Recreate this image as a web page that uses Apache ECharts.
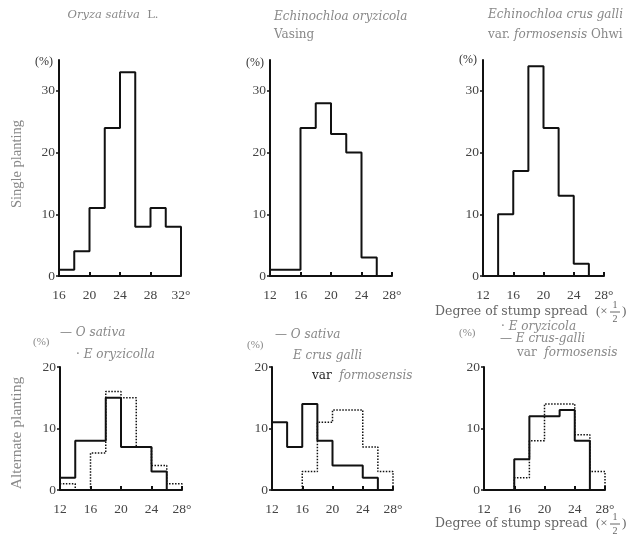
<!DOCTYPE html>
<html>
<head>
<meta charset="utf-8">
<script src="https://cdn.jsdelivr.net/npm/echarts@6/dist/echarts.min.js"></script>
<style>
html, body { margin: 0; padding: 0; background: #fff; }
#chart { width: 644px; height: 541px; }
</style>
</head>
<body>
<div id="chart"></div>
<script>
// stump spread classes are 2 degrees wide
const binWidth = 2

// single planting (% of plants per class), first class start
const sativaSingleStart = 16
const sativaSingle = [1, 4, 11, 24, 33, 8, 11, 8]
const oryzicolaSingleStart = 12
const oryzicolaSingle = [1, 1, 24, 28, 23, 20, 3]
const crusGalliSingleStart = 14
const crusGalliSingle = [10, 17, 34, 24, 13, 2]

// alternate planting: O. sativa with E. oryzicola
const mixOneSativaStart = 12
const mixOneSativa = [2, 8, 8, 15, 7, 7, 3]
const mixOneOryzicolaStart = 12
const mixOneOryzicola = [1, 0, 6, 16, 15, 7, 4, 1]

// alternate planting: O. sativa with E. crus-galli
const mixTwoSativaStart = 12
const mixTwoSativa = [11, 7, 14, 8, 4, 4, 2]
const mixTwoCrusStart = 16
const mixTwoCrus = [3, 11, 13, 13, 7, 3]

// alternate planting: E. crus-galli with E. oryzicola
const mixThreeCrusStart = 16
const mixThreeCrus = [5, 12, 12, 13, 8]
const mixThreeOryzicolaStart = 16
const mixThreeOryzicola = [2, 8, 14, 14, 9, 3]

// tick labels
const xTicksRice = [16, 20, 24, 28, 32]
const xTicksWeed = [12, 16, 20, 24, 28]
const yTicksSingle = [0, 10, 20, 30]
const yTicksAlternate = [0, 10, 20]

const serif = '"Liberation Serif", serif'
const wideSerif = '"DejaVu Serif", serif'
const ink = '#111'

// outline of a histogram, drawn with step: 'end'
function outline (start, values) {
  let pts = [[start, 0]]
  values.forEach((v, i) => pts.push([start + i * binWidth, v]))
  pts.push([start + values.length * binWidth, 0])
  return pts
}

function xAxisFor (gridIndex, ticks) {
  let min = ticks[0]
  let max = ticks[ticks.length - 1]
  return {
    type: 'value',
    gridIndex: gridIndex,
    min: min,
    max: max,
    interval: 4,
    axisLine: { lineStyle: { color: ink, width: 2 } },
    axisTick: { inside: true, length: 4, customValues: ticks, lineStyle: { color: ink, width: 2 } },
    axisLabel: {
      customValues: ticks,
      formatter: v => v === max ? v + '°' : String(v),
      margin: 12,
      fontFamily: serif,
      fontSize: 13.5,
      color: '#444'
    },
    splitLine: { show: false }
  }
}

function yAxisFor (gridIndex, max, ticks) {
  return {
    type: 'value',
    gridIndex: gridIndex,
    min: 0,
    max: max,
    interval: 10,
    axisLine: { show: true, lineStyle: { color: ink, width: 2 } },
    axisTick: { show: true, length: 3, customValues: ticks, lineStyle: { color: ink, width: 1.5 } },
    axisLabel: { customValues: ticks, margin: 4, fontFamily: serif, fontSize: 13.5, color: '#444' },
    splitLine: { show: false }
  }
}

function histSeries (index, start, values, dotted) {
  return {
    type: 'line',
    xAxisIndex: index,
    yAxisIndex: index,
    step: 'end',
    symbol: 'none',
    silent: true,
    data: outline(start, values),
    lineStyle: dotted
      ? { color: ink, width: 1.5, type: 'dotted' }
      : { color: ink, width: 2 },
    z: dotted ? 2 : 3
  }
}

function label (text, x, y, opts) {
  opts = opts || {}
  let size = opts.size || 12
  let family = opts.family || wideSerif
  let color = opts.color || '#888'
  return {
    type: 'text',
    x: x,
    y: y,
    rotation: opts.rotation || 0,
    style: {
      text: text,
      fill: color,
      font: (opts.italic ? 'italic ' : '') + size + 'px ' + family,
      align: opts.align || 'left',
      verticalAlign: 'middle',
      rich: {
        it: { fontStyle: 'italic', fontFamily: family, fontSize: size, fill: color },
        bk: { fontFamily: family, fontSize: size, fill: '#222' }
      }
    }
  }
}

// "Degree of stump spread (x 1/2)" with a stacked fraction
function spreadTitle (x, y) {
  return {
    type: 'group',
    x: x,
    y: y,
    children: [
      label('Degree of stump spread', 0, 0, { size: 12.5, color: '#666' }),
      label('(×', 161, 0, { size: 13, color: '#666', family: serif }),
      label('1', 180, -7, { size: 10, color: '#666', align: 'center', family: serif }),
      { type: 'line', shape: { x1: 175, y1: 0, x2: 185, y2: 0 }, style: { stroke: '#666', lineWidth: 1 } },
      label('2', 180, 7, { size: 10, color: '#666', align: 'center', family: serif }),
      label(')', 187, 0, { size: 13, color: '#666', family: serif })
    ]
  }
}

let option = {
  animation: false,
  backgroundColor: '#fff',
  grid: [
    { left: 59, top: 60, width: 122, height: 216 },
    { left: 270, top: 60, width: 122, height: 216 },
    { left: 483, top: 60, width: 121, height: 216 },
    { left: 60, top: 367, width: 122, height: 123 },
    { left: 272, top: 367, width: 121, height: 123 },
    { left: 484, top: 367, width: 121, height: 123 }
  ],
  xAxis: [
    xAxisFor(0, xTicksRice),
    xAxisFor(1, xTicksWeed),
    xAxisFor(2, xTicksWeed),
    xAxisFor(3, xTicksWeed),
    xAxisFor(4, xTicksWeed),
    xAxisFor(5, xTicksWeed)
  ],
  yAxis: [
    yAxisFor(0, 35, yTicksSingle),
    yAxisFor(1, 35, yTicksSingle),
    yAxisFor(2, 35, yTicksSingle),
    yAxisFor(3, 20, yTicksAlternate),
    yAxisFor(4, 20, yTicksAlternate),
    yAxisFor(5, 20, yTicksAlternate)
  ],
  series: [
    histSeries(0, sativaSingleStart, sativaSingle),
    histSeries(1, oryzicolaSingleStart, oryzicolaSingle),
    histSeries(2, crusGalliSingleStart, crusGalliSingle),
    histSeries(3, mixOneOryzicolaStart, mixOneOryzicola, true),
    histSeries(3, mixOneSativaStart, mixOneSativa),
    histSeries(4, mixTwoCrusStart, mixTwoCrus, true),
    histSeries(4, mixTwoSativaStart, mixTwoSativa),
    histSeries(5, mixThreeOryzicolaStart, mixThreeOryzicola, true),
    histSeries(5, mixThreeCrusStart, mixThreeCrus)
  ],
  graphic: [
    // panel titles
    label('{it|Oryza sativa}  L.', 113, 15, { size: 11.5, align: 'center' }),
    label('{it|Echinochloa oryzicola}', 274, 17),
    label('Vasing', 274, 35),
    label('{it|Echinochloa crus galli}', 488, 15),
    label('var. {it|formosensis} Ohwi', 488, 35),
    // row titles
    label('Single planting', 17, 164, { size: 14.5, color: '#888', align: 'center', rotation: Math.PI / 2, family: serif }),
    label('Alternate planting', 17, 433, { size: 15.5, color: '#888', align: 'center', rotation: Math.PI / 2, family: serif }),
    // unit labels
    label('(%)', 35, 62, { color: '#333', family: serif }),
    label('(%)', 246, 63, { color: '#333', family: serif }),
    label('(%)', 459, 60, { color: '#333', family: serif }),
    label('(%)', 33, 342, { size: 11, family: serif }),
    label('(%)', 247, 345, { size: 11, family: serif }),
    label('(%)', 459, 333, { size: 11, family: serif }),
    // legends
    label('— {it|O sativa}', 60, 333),
    label('· {it|E oryzicolla}', 76, 355),
    label('— {it|O sativa}', 275, 335),
    label('{it|E crus galli}', 293, 356),
    label('{bk|var}  {it|formosensis}', 312, 376),
    label('· {it|E oryzicola}', 501, 327),
    label('— {it|E crus-galli}', 500, 339),
    label('var  {it|formosensis}', 517, 353),
    // axis titles of the right column
    spreadTitle(435, 312),
    spreadTitle(435, 524)
  ]
}

let chart = echarts.init(document.getElementById('chart'))
chart.setOption(option, true)
</script>
</body>
</html>
